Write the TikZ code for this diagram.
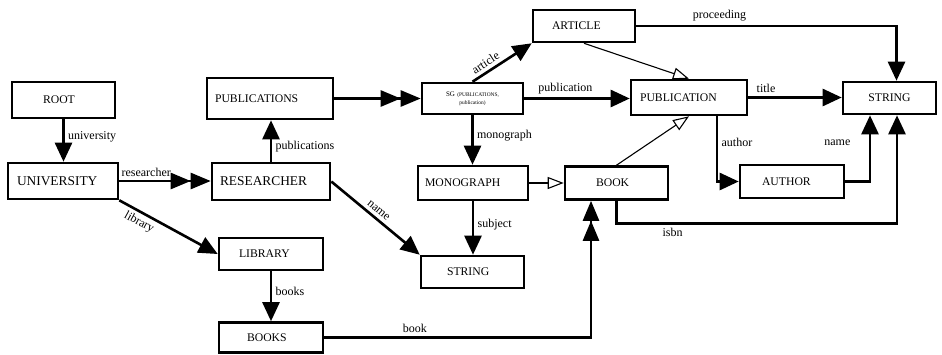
\documentclass[tikz,border=0pt]{standalone}
\usepackage{fontspec}
\setmainfont{Liberation Serif}
\usetikzlibrary{arrows.meta}

\begin{document}
\begin{tikzpicture}[x=1pt, y=-1pt,
    box/.style={draw, line width=2.6pt, inner sep=0pt, align=left, font=\fontsize{11.7}{13}\selectfont},
    big/.style={font=\fontsize{13.4}{15}\selectfont},
    link/.style={line width=2.6pt, -{Triangle[length=19pt, width=17pt]}},
    multi/.style={line width=2.6pt, -{Triangle[length=20pt, width=16pt]Triangle[length=20pt, width=16pt]}},
    isa/.style={line width=1.1pt, -{Triangle[open, length=16pt, width=12pt]}},
    lbl/.style={font=\fontsize{12}{14}\selectfont}]
    \useasboundingbox (0,0) rectangle (942,354);
    % boxes
    \node[box, minimum width=103pt, minimum height=36pt, text width=41pt] (root) at (63.5,100) {ROOT};
    \node[box, big, minimum width=110pt, minimum height=36pt, text width=92pt] (univ) at (63,181) {UNIVERSITY};
    \node[box, big, minimum width=118pt, minimum height=37pt, text width=102pt] (res) at (271,181.5) {RESEARCHER};
    \node[box, minimum width=126pt, minimum height=41pt, text width=110pt] (pubs) at (270,98.5) {PUBLICATIONS};
    \node[box, align=center, font=\fontsize{7}{8}\selectfont, minimum width=101pt, minimum height=31pt, text width=90pt] (sg) at (472.5,98.5)
        {SG {\fontsize{5.4}{6}\selectfont (PUBLICATIONS,}\\{\fontsize{5.4}{6}\selectfont publication)}};
    \node[box, minimum width=102pt, minimum height=32pt, text width=64pt] (article) at (584,26) {ARTICLE};
    \node[box, minimum width=116pt, minimum height=35pt, text width=98pt] (pub) at (689,97.5) {PUBLICATION};
    \node[box, align=center, minimum width=93pt, minimum height=32pt, text width=70pt] (strR) at (889.5,98) {STRING};
    \node[box, minimum width=110pt, minimum height=34pt, text width=96pt] (mono) at (473,183) {MONOGRAPH};
    \node[box, minimum width=103pt, minimum height=33pt, text width=41pt] (book) at (616.5,183) {BOOK};
    \node[box, minimum width=104pt, minimum height=33pt, text width=60pt] (author) at (792,181.5) {AUTHOR};
    \node[box, minimum width=104pt, minimum height=32pt, text width=64pt] (lib) at (271,254) {LIBRARY};
    \node[box, minimum width=103pt, minimum height=32pt, text width=51pt] (strM) at (472.5,272) {STRING};
    \node[box, minimum width=104pt, minimum height=30pt, text width=48pt] (books) at (271,337.5) {BOOKS};
    % edges
    \draw[link] (root.south) -- (root.south |- univ.north) node[lbl, right, pos=0.42] {university};
    \draw[multi] (univ.east) -- (univ.east -| res.west) node[lbl, above right, pos=0, inner xsep=1pt] {researcher};
    \draw[link] (univ.south east) -- (lib.west) node[lbl, sloped, below, pos=0.25] {library};
    \draw[link] (res.north) -- (res.north |- pubs.south) node[lbl, right, pos=0.36] {publications};
    \draw[link] (res.east) -- (strM.north west) node[lbl, sloped, above, pos=0.48] {name};
    \draw[multi] (pubs.east) -- (pubs.east -| sg.west);
    \draw[link] (sg.north) -- (article.south west) node[lbl, sloped, above, pos=0.3] {article};
    \draw[link] (sg.east) -- (sg.east -| pub.west) node[lbl, above, pos=0.39] {publication};
    \draw[link] (sg.south) -- (sg.south |- mono.north) node[lbl, right, pos=0.42] {monograph};
    \draw[isa] (article.south) -- (pub.north);
    \draw[link] (article.east) -| ([xshift=7pt]strR.north) node[lbl, above, pos=0.16] {proceeding};
    \draw[link] (pub.east) -- (pub.east -| strR.west) node[lbl, above, pos=0.19] {title};
    \draw[link] ([xshift=28pt]pub.south) |- (author.west) node[lbl, right, pos=0.2] {author};
    \draw[link] (author.east) -| ([xshift=-19.5pt]strR.south) node[lbl, left=15pt, pos=0.79] {name};
    \draw[link] (book.south) -- ++(0,22.5) -| ([xshift=7.5pt]strR.south) node[lbl, below, pos=0.1] {isbn};
    \draw[isa] (book.north) -- (pub.south);
    \draw[isa] (mono.east) -- (book.west);
    \draw[link] (mono.south) -- (mono.south |- strM.north) node[lbl, right, pos=0.43] {subject};
    \draw[link] (lib.south) -- (lib.south |- books.north) node[lbl, right, pos=0.4] {books};
    \draw[multi] (books.east) -| ([xshift=-25.5pt]book.south) node[lbl, above, pos=0.17] {book};
\end{tikzpicture}
\end{document}
